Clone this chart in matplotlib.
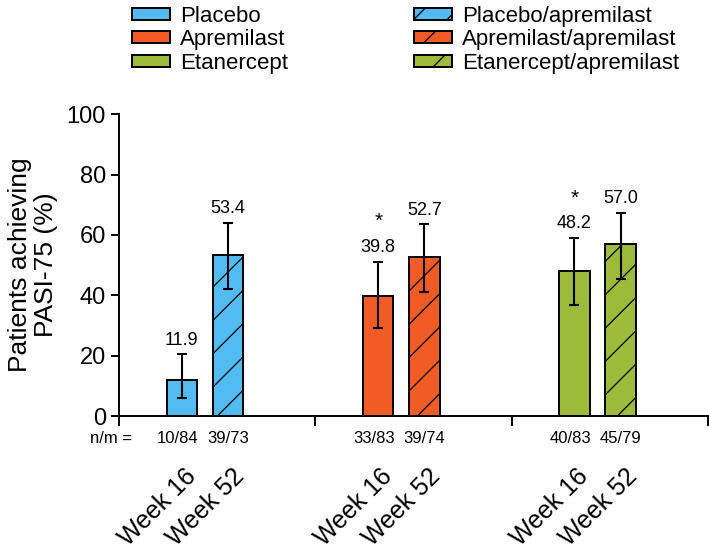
import matplotlib
matplotlib.use("Agg")
import matplotlib.pyplot as plt
import matplotlib.transforms as mtransforms
import numpy as np

plt.rcParams['font.family'] = ['Liberation Sans', 'DejaVu Sans']
plt.rcParams['hatch.linewidth'] = 0.9

# data
groups = ["Placebo", "Apremilast", "Etanercept"]
week_labels = ["Week 16", "Week 52"]
legend_16 = ["Placebo", "Apremilast", "Etanercept"]
legend_52 = ["Placebo/apremilast", "Apremilast/apremilast", "Etanercept/apremilast"]
colors = ["#52BCF2", "#F15B25", "#9CBB3B"]
wk16 = [11.9, 39.8, 48.2]
wk52 = [53.4, 52.7, 57.0]
wk16_lo = [5.9, 29.0, 36.8]
wk16_hi = [20.4, 51.1, 59.0]
wk52_lo = [42.0, 41.2, 45.3]
wk52_hi = [64.0, 63.5, 67.4]
nm16 = ["10/84", "33/83", "40/83"]
nm52 = ["39/73", "39/74", "45/79"]
signif16 = [False, True, True]

fig = plt.figure(figsize=(7.09, 5.54), dpi=100)
ax = fig.add_axes([0.168, 0.249, 0.8305, 0.545])

x = np.arange(len(groups))
x16 = x + 0.32
x52 = x + 0.555
w = 0.155

h16 = []
h52 = []
for i in range(len(groups)):
    b1 = ax.bar(x16[i], wk16[i], width=w, color=colors[i], edgecolor="black",
                linewidth=1.4, zorder=2)
    b2 = ax.bar(x52[i], wk52[i], width=w, color=colors[i], edgecolor="black",
                linewidth=1.4, hatch="/", zorder=2)
    h16.append(b1)
    h52.append(b2)
    ax.errorbar(x16[i], wk16[i],
                yerr=[[wk16[i] - wk16_lo[i]], [wk16_hi[i] - wk16[i]]],
                fmt="none", ecolor="black", elinewidth=1.5, capsize=3.5,
                capthick=1.5, zorder=3)
    ax.errorbar(x52[i], wk52[i],
                yerr=[[wk52[i] - wk52_lo[i]], [wk52_hi[i] - wk52[i]]],
                fmt="none", ecolor="black", elinewidth=1.5, capsize=3.5,
                capthick=1.5, zorder=3)
    ax.annotate(f"{wk16[i]:.1f}", (x16[i], wk16_hi[i]), xytext=(0, 4),
                textcoords="offset points", ha="center", va="bottom", fontsize=13)
    ax.annotate(f"{wk52[i]:.1f}", (x52[i], wk52_hi[i]), xytext=(0, 4),
                textcoords="offset points", ha="center", va="bottom", fontsize=13)
    if signif16[i]:
        ax.annotate("*", (x16[i], wk16_hi[i]), xytext=(0, 22),
                    textcoords="offset points", ha="center", va="bottom",
                    fontsize=15)

ax.set_xlim(0, 3)
ax.set_ylim(0, 100)
ax.set_yticks([0, 20, 40, 60, 80, 100])
ax.set_xticks([0, 1, 2, 3])
ax.set_xticklabels([])
ax.tick_params(axis="y", labelsize=17, width=1.4, length=6, direction="out")
ax.tick_params(axis="x", width=1.4, length=7, direction="out")
for s in ["top", "right"]:
    ax.spines[s].set_visible(False)
for s in ["left", "bottom"]:
    ax.spines[s].set_linewidth(1.4)

ax.set_ylabel("Patients achieving\nPASI-75 (%)", fontsize=19, labelpad=6,
              linespacing=1.1)

trans = mtransforms.blended_transform_factory(ax.transData, ax.transAxes)
ax.text(0.066, -0.075, "n/m =", transform=trans, ha="right", va="center",
        fontsize=12)
for i in range(len(groups)):
    ax.text(x16[i] - 0.02, -0.075, nm16[i], transform=trans, ha="center",
            va="center", fontsize=12)
    ax.text(x52[i], -0.075, nm52[i], transform=trans, ha="center", va="center",
            fontsize=12)
    ax.text(x16[i] + 0.01, -0.16, week_labels[0], transform=trans, ha="right",
            va="top", rotation=45, rotation_mode="anchor", fontsize=18)
    ax.text(x52[i] + 0.02, -0.16, week_labels[1], transform=trans, ha="right",
            va="top", rotation=45, rotation_mode="anchor", fontsize=18)

handles = h16 + h52
labels = legend_16 + legend_52
fig.legend(handles, labels, loc="upper left", bbox_to_anchor=(0.186, 0.99),
           ncol=2, frameon=False, fontsize=16, handlelength=1.7,
           handleheight=0.45, labelspacing=0.12, columnspacing=5.7,
           handletextpad=0.45, borderpad=0.0, borderaxespad=0.0)

fig.savefig("out.png", dpi=100)
